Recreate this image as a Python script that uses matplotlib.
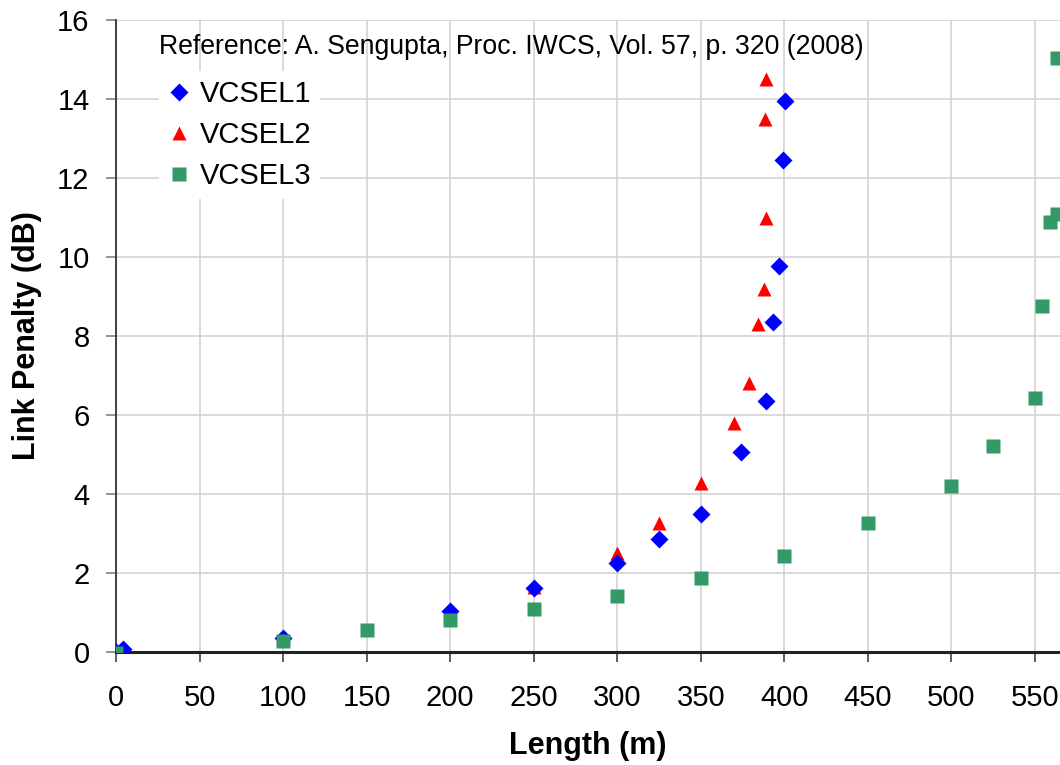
import matplotlib
matplotlib.use('Agg')
import matplotlib.pyplot as plt

# data
v1_x = [0, 4, 100, 200, 250, 300, 325, 350, 374, 389, 393, 397, 399, 400.5]
v1_y = [0.0, 0.08, 0.35, 1.05, 1.62, 2.25, 2.85, 3.5, 5.07, 6.36, 8.36, 9.78, 12.46, 13.96]

v2_x = [100, 200, 250, 300, 325, 350, 370, 379, 384, 388, 389, 388.5, 389]
v2_y = [0.38, 1.1, 1.65, 2.5, 3.26, 4.27, 5.8, 6.8, 8.3, 9.2, 10.98, 13.5, 14.5]

v3_x = [0, 100, 150, 200, 250, 300, 350, 400, 450, 500, 525, 550, 554, 559, 563, 563]
v3_y = [-0.02, 0.28, 0.55, 0.8, 1.08, 1.42, 1.87, 2.42, 3.27, 4.2, 5.22, 6.42, 8.75, 10.88, 11.1, 15.04]

ref_text = 'Reference: A. Sengupta, Proc. IWCS, Vol. 57, p. 320 (2008)'

plt.rcParams['font.family'] = ['Liberation Sans', 'DejaVu Sans']

fig = plt.figure(figsize=(10.6, 7.65), dpi=100)
ax = fig.add_axes([116/1060, 113/765, (1060-116)/1060, 632/765])

ax.plot(v1_x, v1_y, 'D', color='#0000FF', ms=9, mec='none', label='VCSEL1', zorder=4)
ax.plot(v2_x, v2_y, '^', color='#FF0000', ms=10, mec='none', label='VCSEL2', zorder=3)
ax.plot(v3_x, v3_y, 's', color='#339966', ms=9.5, mec='none', label='VCSEL3', zorder=5)

ax.set_xlim(0, 565)
ax.set_ylim(0, 16)
ax.set_xticks(range(0, 551, 50))
ax.set_yticks(range(0, 17, 2))
ax.grid(True, color='#d0d0d0', lw=1.1)
ax.set_axisbelow(True)

for s in ['top', 'right']:
    ax.spines[s].set_visible(False)
ax.spines['left'].set_color('#333333')
ax.spines['left'].set_linewidth(1.3)
ax.spines['bottom'].set_color('#222222')
ax.spines['bottom'].set_linewidth(2.2)
for sp in ax.spines.values():
    sp.set_clip_on(False)

ax.tick_params(axis='both', labelsize=21, length=7, width=1.1, color='#333333')
ax.tick_params(axis='y', pad=12, color='#777777')
ax.tick_params(axis='x', pad=16)

ax.set_xlabel('Length (m)', fontsize=22, fontweight='bold', labelpad=14)
ax.set_ylabel('Link Penalty (dB)', fontsize=22, fontweight='bold', labelpad=11)

ax.text(0.046, 0.958, ref_text, transform=ax.transAxes, fontsize=19.2, va='center', ha='left')

leg = ax.legend(loc='upper left', bbox_to_anchor=(0.03, 0.942), fontsize=21, frameon=True,
                fancybox=False, edgecolor='none', facecolor='white', framealpha=1,
                handlelength=0.8, handletextpad=0.3, labelspacing=0.45, borderpad=0.3)

fig.savefig('out.png', dpi=100)
